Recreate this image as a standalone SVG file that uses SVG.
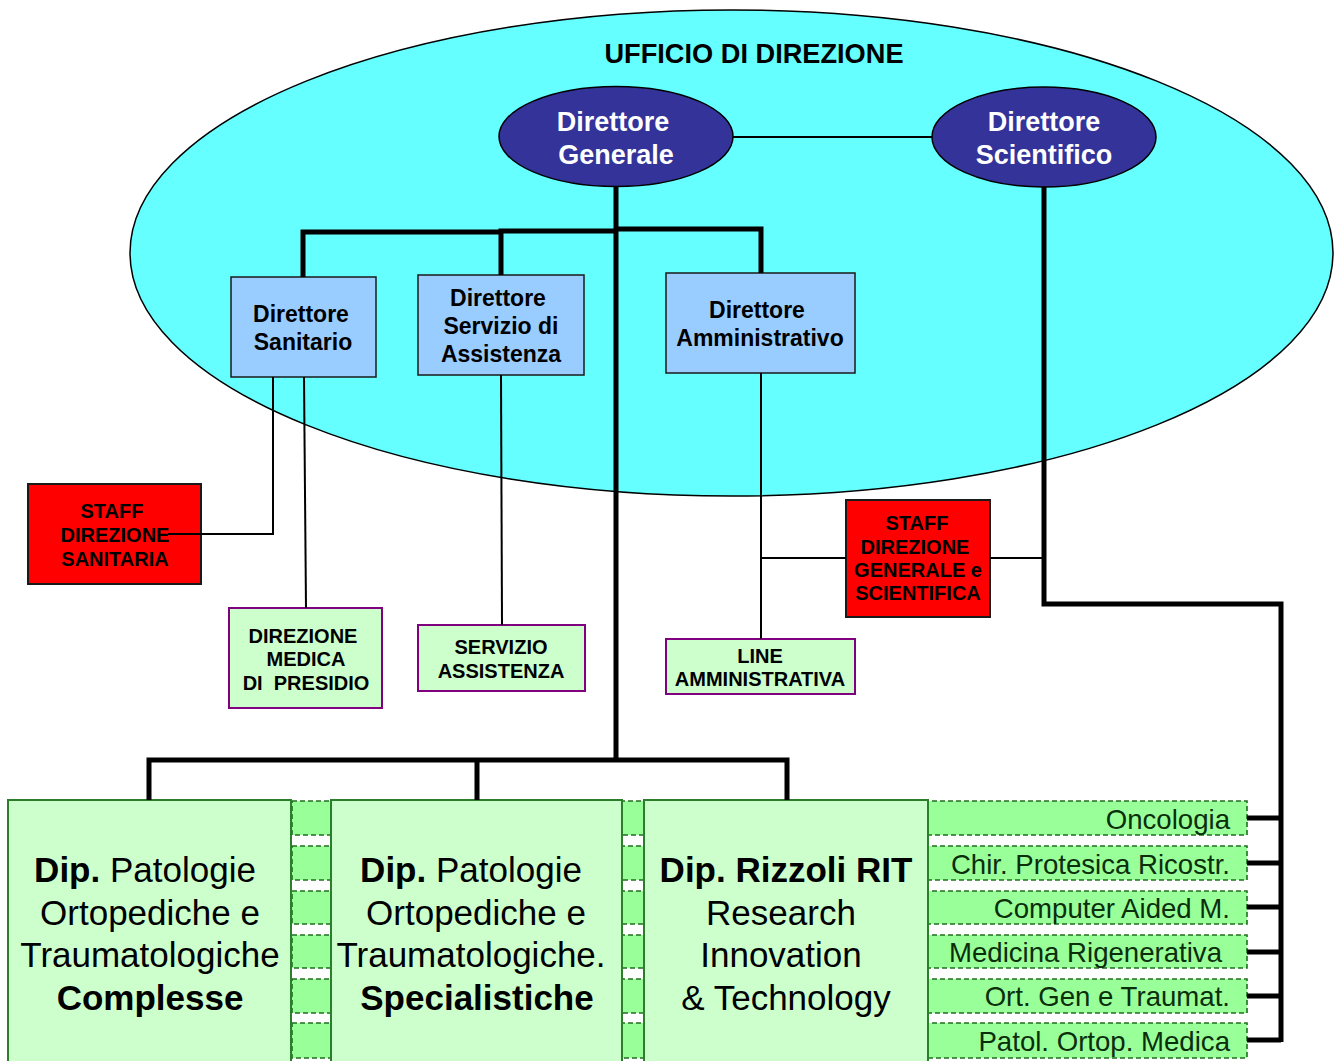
<svg xmlns="http://www.w3.org/2000/svg" width="1343" height="1061" viewBox="0 0 1343 1061">
<style>
text{font-family:"Liberation Sans",Arial,sans-serif;text-anchor:middle}
.b{font-weight:bold}
.dir{fill:#99ccff;stroke:#1a1a1a;stroke-width:1.5}
.dirt{font-size:23px;font-weight:bold;fill:#000}
.ov{fill:#333399;stroke:#000;stroke-width:1.5}
.ovt{font-size:27px;font-weight:bold;fill:#fff}
.staff{fill:#ff0000;stroke:#1a1a1a;stroke-width:2}
.st{font-size:20px;font-weight:bold;fill:#000}
.lg{fill:#ccffcc;stroke:#800080;stroke-width:2}
.dept{fill:#ccffcc;stroke:#2a7f2a;stroke-width:2}
.dt{font-size:35px;fill:#000}
.row{fill:#99ff99;stroke:#1f6f1f;stroke-width:1.6;stroke-dasharray:5 3}
.rt{font-size:27.6px;fill:#0b2e0b;text-anchor:end}
.thin{fill:none;stroke:#000;stroke-width:2}
.thick{fill:none;stroke:#000;stroke-width:5}
</style>
<rect width="1343" height="1061" fill="#fff"/>
<g id="ufficio">
<ellipse cx="731.5" cy="253" rx="601.5" ry="243" fill="#66ffff" stroke="#000" stroke-width="1.5"/>
<text x="754" y="63" class="b" font-size="27.2">UFFICIO DI DIREZIONE</text>
</g>
<g id="rows">
<rect class="row" x="292" y="801" width="955" height="34"/>
<rect class="row" x="292" y="846" width="955" height="34"/>
<rect class="row" x="292" y="891" width="955" height="33"/>
<rect class="row" x="292" y="935" width="955" height="33"/>
<rect class="row" x="292" y="979" width="955" height="34"/>
<rect class="row" x="292" y="1023" width="955" height="35"/>
<text class="rt" x="1230" y="829">Oncologia</text>
<text class="rt" x="1230" y="874">Chir. Protesica Ricostr.</text>
<text class="rt" x="1230" y="918">Computer Aided M.</text>
<text class="rt" x="1222" y="962">Medicina Rigenerativa</text>
<text class="rt" x="1230" y="1006">Ort. Gen e Traumat.</text>
<text class="rt" x="1230" y="1051">Patol. Ortop. Medica</text>
</g>
<g id="dg"><ellipse class="ov" cx="616" cy="136.5" rx="117" ry="50"/>
<text class="ovt" x="613" y="131">Direttore</text><text class="ovt" x="616" y="164">Generale</text></g>
<g id="ds"><ellipse class="ov" cx="1044" cy="137" rx="112" ry="50"/>
<text class="ovt" x="1044" y="131">Direttore</text><text class="ovt" x="1044" y="164">Scientifico</text></g>
<g id="dsan"><rect class="dir" x="231" y="277" width="145" height="100"/>
<text class="dirt" x="301" y="322">Direttore</text><text class="dirt" x="303" y="350">Sanitario</text></g>
<g id="dsa"><rect class="dir" x="418" y="275" width="166" height="100"/>
<text class="dirt" x="498" y="306">Direttore</text><text class="dirt" x="501" y="334">Servizio di</text><text class="dirt" x="501" y="362">Assistenza</text></g>
<g id="dam"><rect class="dir" x="666" y="273" width="189" height="100"/>
<text class="dirt" x="757" y="318">Direttore</text><text class="dirt" x="760" y="346">Amministrativo</text></g>
<g id="staffsan"><rect class="staff" x="28" y="484" width="173" height="100"/>
<text class="st" x="112" y="518">STAFF</text><text class="st" x="115" y="542">DIREZIONE</text><text class="st" x="115" y="566">SANITARIA</text></g>
<g id="staffgen"><rect class="staff" x="846" y="500" width="144" height="117"/>
<text class="st" x="917" y="530">STAFF</text><text class="st" x="915" y="554">DIREZIONE</text><text class="st" x="918" y="577">GENERALE e</text><text class="st" x="918" y="600">SCIENTIFICA</text></g>
<g id="dirmed"><rect class="lg" x="229" y="608" width="153" height="100"/>
<text class="st" x="303" y="643">DIREZIONE</text><text class="st" x="306" y="666">MEDICA</text><text class="st" x="306" y="690" xml:space="preserve">DI  PRESIDIO</text></g>
<g id="servass"><rect class="lg" x="418" y="625" width="167" height="66"/>
<text class="st" x="501" y="654">SERVIZIO</text><text class="st" x="501" y="678">ASSISTENZA</text></g>
<g id="lineamm"><rect class="lg" x="666" y="639" width="189" height="55"/>
<text class="st" x="760" y="663">LINE</text><text class="st" x="760" y="686">AMMINISTRATIVA</text></g>
<g id="dep1"><rect class="dept" x="8" y="800" width="283" height="270"/>
<text class="dt" x="145" y="882"><tspan class="b">Dip.</tspan> Patologie</text>
<text class="dt" x="150" y="925">Ortopediche e</text>
<text class="dt" x="150" y="967">Traumatologiche</text>
<text class="dt b" x="150" y="1010">Complesse</text></g>
<g id="dep2"><rect class="dept" x="331" y="800" width="291" height="270"/>
<text class="dt" x="471" y="882"><tspan class="b">Dip.</tspan> Patologie</text>
<text class="dt" x="476" y="925">Ortopediche e</text>
<text class="dt" x="471" y="967">Traumatologiche.</text>
<text class="dt b" x="477" y="1010">Specialistiche</text></g>
<g id="dep3"><rect class="dept" x="644" y="800" width="284" height="270"/>
<text class="dt b" x="786" y="882">Dip. Rizzoli RIT</text>
<text class="dt" x="781" y="925">Research</text>
<text class="dt" x="781" y="967">Innovation</text>
<text class="dt" x="786" y="1010">&amp; Technology</text></g>
<g id="connectors">
<line class="thin" x1="733" y1="137" x2="932" y2="137"/>
<path class="thick" d="M616 187V760"/>
<path class="thick" d="M303 277V232H501V231H616M501 275V231M616 229H761V273"/>
<path class="thick" d="M149 800V760H787V800M477 800V760"/>
<path class="thick" d="M1044 187V604H1281V1042"/>
<path class="thick" d="M1247 818H1281M1247 863H1281M1247 907H1281M1247 952H1281M1247 996H1281M1247 1040H1281"/>
<path class="thin" d="M273 377V534H168"/>
<path class="thin" d="M304 377L306 608"/>
<path class="thin" d="M501 375L502 625"/>
<path class="thin" d="M761 373V639M761 558H846M990 558H1044"/>
</g>
</svg>
